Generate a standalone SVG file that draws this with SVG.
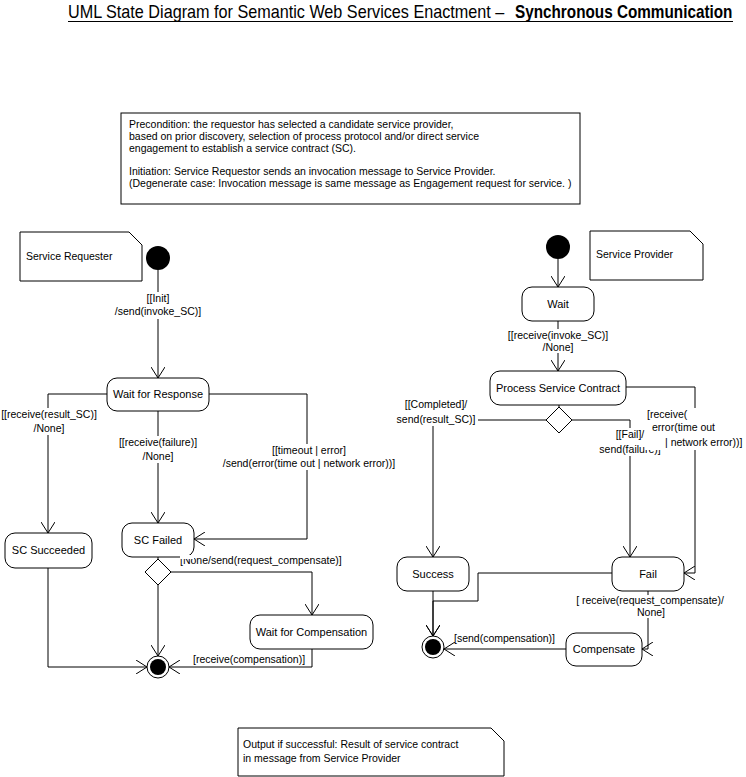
<svg xmlns="http://www.w3.org/2000/svg" width="746" height="777" viewBox="0 0 746 777">
<style>
text{font-family:"Liberation Sans",Arial,sans-serif;fill:#000}
.st{font-size:11px;text-anchor:middle}
.lb{font-size:10.5px}
.m{text-anchor:middle}
.nt{font-size:10.5px}
.node rect.s{fill:#fff;stroke:#000;stroke-width:1}
.note{fill:#fff;stroke:#000;stroke-width:1}
.bg{fill:#fff}
#connectors path{fill:none;stroke:#000;stroke-width:1}
</style>
<defs>
<marker id="arr" markerWidth="13" markerHeight="14" refX="11" refY="7" orient="auto" markerUnits="userSpaceOnUse">
<path d="M0,0 L11,7 L0,14" fill="none" stroke="#000" stroke-width="1"/>
</marker>
</defs>
<rect width="746" height="777" fill="#fff"/>

<g id="title">
<text transform="translate(68,18) scale(0.9,1)" x="0" y="0" font-size="18">UML State Diagram for Semantic Web Services Enactment –</text>
<text transform="translate(515,18) scale(0.85,1)" x="0" y="0" font-size="18" font-weight="bold">Synchronous Communication</text>
<line x1="68" y1="21.5" x2="733" y2="21.5" stroke="#000" stroke-width="1"/>
</g>

<g id="note-precondition">
<rect class="note" x="121" y="113" width="459" height="91"/>
<text class="nt" x="129" y="128">Precondition: the requestor has selected a candidate service provider,</text>
<text class="nt" x="129" y="140">based on prior discovery, selection of process protocol and/or direct service</text>
<text class="nt" x="129" y="152">engagement to establish a service contract (SC).</text>
<text class="nt" x="129" y="175">Initiation: Service Requestor sends an invocation message to Service Provider.</text>
<text class="nt" x="129" y="187">(Degenerate case: Invocation message is same message as Engagement request for service. )</text>
</g>

<g id="note-requester">
<path class="note" d="M20,232 H129 L142,245 V281 H20 Z"/>
<text class="nt" x="26" y="260">Service Requester</text>
</g>

<g id="note-provider">
<path class="note" d="M590,231 H690 L703,244 V280 H590 Z"/>
<text class="nt" x="596" y="258">Service Provider</text>
</g>

<g id="note-output">
<path class="note" d="M238,728 H491 L504,741 V776 H238 Z"/>
<text class="nt" x="243" y="748">Output if successful: Result of service contract</text>
<text class="nt" x="243" y="762">in message from Service Provider</text>
</g>

<g id="connectors">
<path d="M158,270 V378" marker-end="url(#arr)"/>
<path d="M107,394 H48 V533" marker-end="url(#arr)"/>
<path d="M158,411 V523" marker-end="url(#arr)"/>
<path d="M209,394 H307 V539 H194" marker-end="url(#arr)"/>
<path d="M158,557 V559"/>
<path d="M171,572 H312 V615" marker-end="url(#arr)"/>
<path d="M158,585 V656" marker-end="url(#arr)"/>
<path d="M48,568 V667 H147" marker-end="url(#arr)"/>
<path d="M312,649 V667 H169" marker-end="url(#arr)"/>

<path d="M558,259 V287" marker-end="url(#arr)"/>
<path d="M558,321 V371" marker-end="url(#arr)"/>
<path d="M559,405 V407"/>
<path d="M546,420 H433 V557" marker-end="url(#arr)"/>
<path d="M572,420 H630 V557" marker-end="url(#arr)"/>
<path d="M626,387 H695 V573 H684" marker-end="url(#arr)"/>
<path d="M433,591 V636" marker-end="url(#arr)"/>
<path d="M612,573 H478 V601 H433 V636" marker-end="url(#arr)"/>
<path d="M648,591 V649 H642" marker-end="url(#arr)"/>
<path d="M566,649 H444" marker-end="url(#arr)"/>
</g>

<g id="labels">
<rect class="bg" x="114" y="292" width="90" height="27"/>
<text class="lb m" x="158" y="302">[[Init]</text>
<text class="lb m" x="158" y="315">/send(invoke_SC)]</text>

<rect class="bg" x="1" y="408" width="97" height="27"/>
<text class="lb m" x="49" y="418">[[receive(result_SC)]</text>
<text class="lb m" x="49" y="432">/None]</text>

<rect class="bg" x="117" y="436" width="82" height="27"/>
<text class="lb m" x="158" y="446">[[receive(failure)]</text>
<text class="lb m" x="158" y="460">/None]</text>

<rect class="bg" x="221" y="444" width="177" height="26"/>
<text class="lb m" x="309" y="454">[[timeout | error]</text>
<text class="lb m" x="309" y="467">/send(error(time out | network error))]</text>

<rect class="bg" x="180" y="555" width="165" height="12"/>
<text class="lb" x="180" y="564">[None/send(request_compensate)]</text>

<text class="lb" x="193" y="663">[receive(compensation)]</text>

<rect class="bg" x="502" y="329" width="110" height="24"/>
<text class="lb m" x="558" y="339">[[receive(invoke_SC)]</text>
<text class="lb m" x="558" y="351">/None]</text>

<rect class="bg" x="394" y="399" width="84" height="27"/>
<text class="lb m" x="436" y="408">[[Completed]/</text>
<text class="lb m" x="436" y="423">send(result_SC)]</text>

<rect class="bg" x="600" y="428" width="61" height="28"/>
<text class="lb m" x="630" y="438">[[Fail]/</text>
<text class="lb m" x="630" y="453">send(failure)]</text>

<rect class="bg" x="645" y="408" width="99" height="42"/>
<text class="lb" x="647" y="418">[receive(</text>
<text class="lb" x="652" y="431">error(time out</text>
<text class="lb" x="665" y="446">| network error))]</text>

<rect class="bg" x="573" y="595" width="154" height="23"/>
<text class="lb m" x="650" y="604">[ receive(request_compensate)/</text>
<text class="lb m" x="651" y="616">None]</text>

<text class="lb" x="454" y="642">[send(compensation)]</text>
</g>

<g id="init-left"><circle cx="158" cy="258" r="12" fill="#000"/></g>
<g id="wait-for-response" class="node"><rect class="s" x="107" y="378" width="102" height="33" rx="10"/><text class="st" x="158" y="398">Wait for Response</text></g>
<g id="sc-succeeded" class="node"><rect class="s" x="5" y="533" width="87" height="35" rx="10"/><text class="st" x="48.5" y="554">SC Succeeded</text></g>
<g id="sc-failed" class="node"><rect class="s" x="122" y="523" width="72" height="34" rx="10"/><text class="st" x="158" y="544">SC Failed</text></g>
<rect class="bg" x="180" y="555" width="14" height="4"/>
<g id="decision-left"><path d="M158,559 L171,572 L158,585 L145,572 Z" fill="#fff" stroke="#000"/></g>
<g id="wait-for-compensation" class="node"><rect class="s" x="250" y="615" width="123" height="34" rx="10"/><text class="st" x="311.5" y="636">Wait for Compensation</text></g>
<g id="final-left"><circle cx="158" cy="667" r="11" fill="#fff" stroke="#000"/><circle cx="158" cy="667" r="8" fill="#000"/></g>

<g id="init-right"><circle cx="558" cy="247" r="12" fill="#000"/></g>
<g id="wait" class="node"><rect class="s" x="522" y="287" width="72" height="34" rx="10"/><text class="st" x="558" y="308">Wait</text></g>
<g id="process-service-contract" class="node"><rect class="s" x="490" y="371" width="136" height="34" rx="10"/><text class="st" x="558" y="392">Process Service Contract</text></g>
<g id="decision-right"><path d="M559,407 L572,420 L559,433 L546,420 Z" fill="#fff" stroke="#000"/></g>
<g id="success" class="node"><rect class="s" x="397" y="557" width="72" height="34" rx="10"/><text class="st" x="433" y="578">Success</text></g>
<g id="fail" class="node"><rect class="s" x="612" y="557" width="72" height="34" rx="10"/><text class="st" x="648" y="578">Fail</text></g>
<g id="compensate" class="node"><rect class="s" x="566" y="633" width="76" height="33" rx="10"/><text class="st" x="604" y="653">Compensate</text></g>
<g id="final-right"><circle cx="433" cy="647" r="11" fill="#fff" stroke="#000"/><circle cx="433" cy="647" r="8" fill="#000"/></g>
</svg>
